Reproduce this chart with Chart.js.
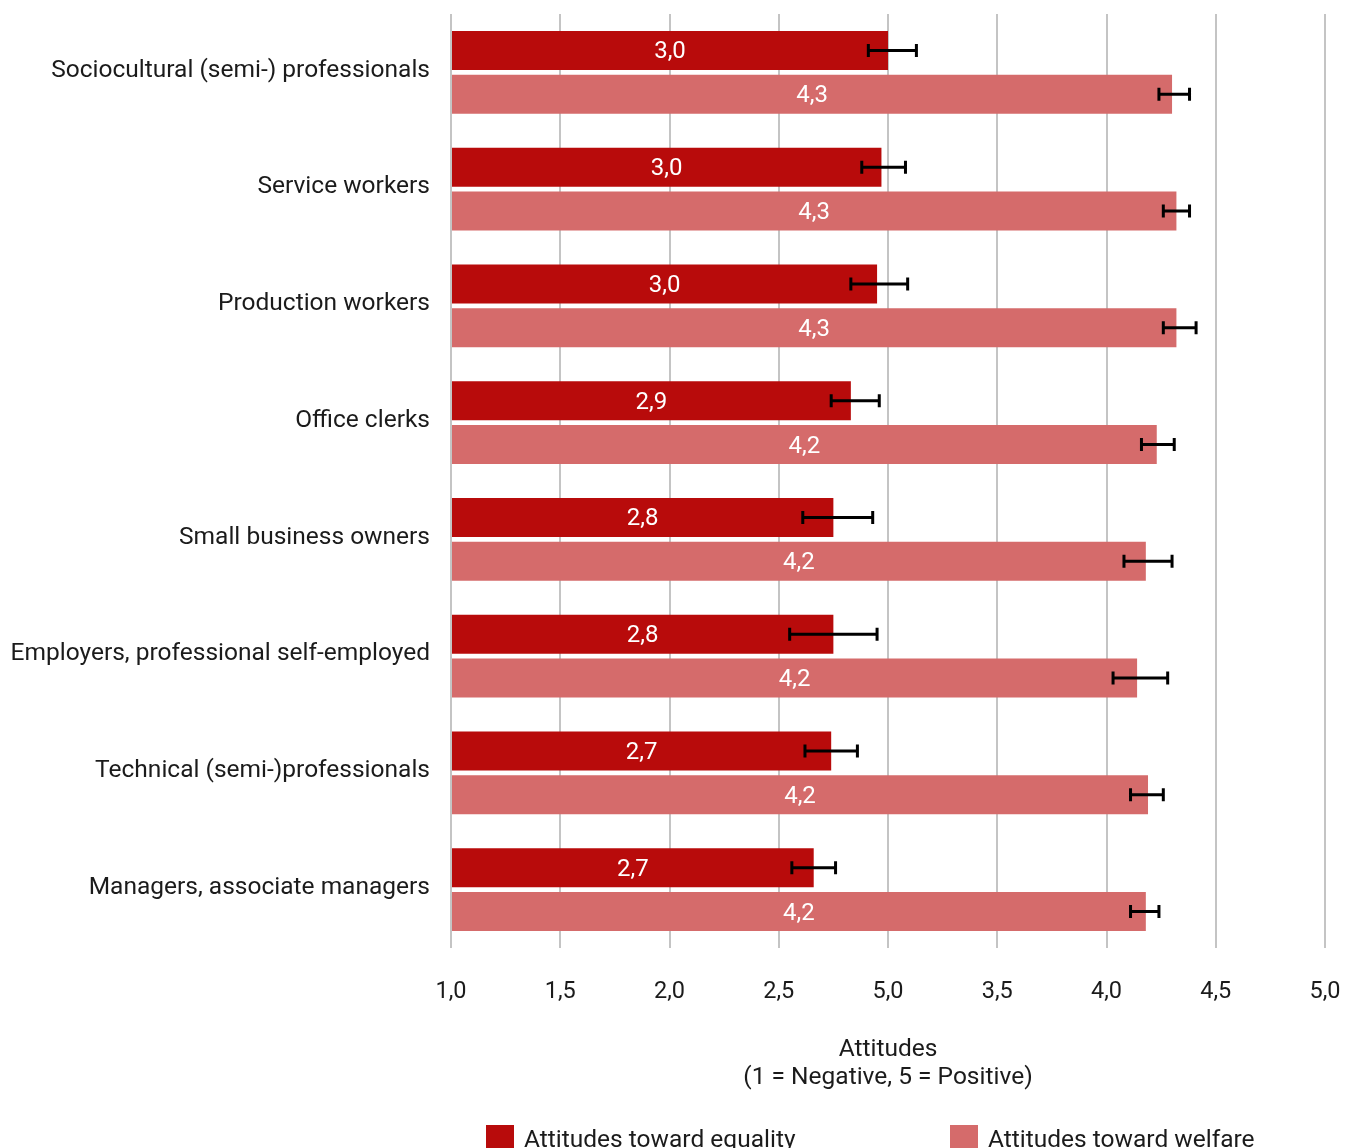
<!DOCTYPE html>
<html>
<head>
<meta charset="utf-8">
<title>Attitudes by occupational class</title>
<script src="https://cdn.jsdelivr.net/npm/chart.js@4.4.1/dist/chart.umd.min.js"></script>
<style>
    html, body { margin: 0; padding: 0; background: #fff; overflow: hidden; }
    .wrap { position: relative; width: 1345px; height: 1148px; }
    .legend { position: absolute; left: 0; top: 1124px; font-family: Roboto, sans-serif; font-size: 24.5px; color: #1b1b1b; }
    .legend-item { position: absolute; top: 0; display: flex; align-items: center; white-space: nowrap; }
    .swatch { width: 28px; height: 28px; margin-right: 10px; }
</style>
</head>
<body>
<div class="wrap">
    <canvas id="chart" width="1345" height="1148"></canvas>
    <div class="legend" id="legend"></div>
</div>
<script>
// ── data ──────────────────────────────────────────────────────────────────
const categories = [
    'Sociocultural (semi-) professionals',
    'Service workers',
    'Production workers',
    'Office clerks',
    'Small business owners',
    'Employers, professional self-employed',
    'Technical (semi-)professionals',
    'Managers, associate managers'
];

const seriesNames = ['Attitudes toward equality', 'Attitudes toward welfare'];

const equality       = [3.00, 2.97, 2.95, 2.83, 2.75, 2.75, 2.74, 2.66];
const equalityLow    = [2.91, 2.88, 2.83, 2.74, 2.61, 2.55, 2.62, 2.56];
const equalityHigh   = [3.13, 3.08, 3.09, 2.96, 2.93, 2.95, 2.86, 2.76];
const equalityLabels = ['3,0', '3,0', '3,0', '2,9', '2,8', '2,8', '2,7', '2,7'];

const welfare        = [4.30, 4.32, 4.32, 4.23, 4.18, 4.14, 4.19, 4.18];
const welfareLow     = [4.24, 4.26, 4.26, 4.16, 4.08, 4.03, 4.11, 4.11];
const welfareHigh    = [4.38, 4.38, 4.41, 4.31, 4.30, 4.28, 4.26, 4.24];
const welfareLabels  = ['4,3', '4,3', '4,3', '4,2', '4,2', '4,2', '4,2', '4,2'];

// tick labels as printed (the 3,0 position reads "5,0" in the original)
const xTickLabels = ['1,0', '1,5', '2,0', '2,5', '5,0', '3,5', '4,0', '4,5', '5,0'];

const axisTitle = ['Attitudes', '(1 = Negative, 5 = Positive)'];

const colors = ['#b80b0b', '#d56b6b'];
const textColor = '#1b1b1b';

// ── value labels + error bars ─────────────────────────────────────────────
const barExtras = {
    id: 'barExtras',
    afterDatasetsDraw(chart) {
        const ctx = chart.ctx;
        const xScale = chart.scales.x;
        chart.data.datasets.forEach((ds, i) => {
            const meta = chart.getDatasetMeta(i);
            meta.data.forEach((bar, j) => {
                ctx.save();
                ctx.fillStyle = '#ffffff';
                ctx.font = '24px Roboto';
                ctx.textAlign = 'center';
                ctx.textBaseline = 'middle';
                ctx.fillText(ds.valueLabels[j], (bar.base + bar.x) / 2, bar.y + 2);

                const lo = xScale.getPixelForValue(ds.errLow[j]);
                const hi = xScale.getPixelForValue(ds.errHigh[j]);
                const cap = 6.5;
                ctx.strokeStyle = '#000000';
                ctx.lineWidth = 3;
                ctx.beginPath();
                ctx.moveTo(lo, bar.y);
                ctx.lineTo(hi, bar.y);
                ctx.moveTo(lo, bar.y - cap);
                ctx.lineTo(lo, bar.y + cap);
                ctx.moveTo(hi, bar.y - cap);
                ctx.lineTo(hi, bar.y + cap);
                ctx.stroke();
                ctx.restore();
            });
        });
    }
};

Chart.defaults.font.family = 'Roboto';
Chart.defaults.color = textColor;

const chart = new Chart(document.getElementById('chart'), {
    type: 'bar',
    data: {
        labels: categories,
        datasets: [
            {
                label: seriesNames[0],
                data: equality,
                valueLabels: equalityLabels,
                errLow: equalityLow,
                errHigh: equalityHigh,
                backgroundColor: colors[0],
                base: 1,
                categoryPercentage: 0.75,
                barPercentage: 0.89
            },
            {
                label: seriesNames[1],
                data: welfare,
                valueLabels: welfareLabels,
                errLow: welfareLow,
                errHigh: welfareHigh,
                backgroundColor: colors[1],
                base: 1,
                categoryPercentage: 0.75,
                barPercentage: 0.89
            }
        ]
    },
    options: {
        indexAxis: 'y',
        responsive: false,
        animation: false,
        devicePixelRatio: 1,
        layout: {
            padding: { left: 0, right: 20, top: 14, bottom: 56 }
        },
        plugins: {
            legend: { display: false },
            tooltip: { enabled: false }
        },
        scales: {
            x: {
                min: 1,
                max: 5,
                grid: {
                    color: '#c4c4c4',
                    lineWidth: 2,
                    drawTicks: false
                },
                border: { display: false },
                ticks: {
                    stepSize: 0.5,
                    padding: 30,
                    color: textColor,
                    font: { size: 23.5 },
                    callback: (value, index) => xTickLabels[index]
                },
                title: {
                    display: true,
                    text: axisTitle,
                    color: textColor,
                    font: { size: 24.5, lineHeight: 1.143 },
                    padding: { top: 0, bottom: 0 }
                },
                afterFit: (scale) => {
                    scale.height = 144;
                    scale.paddingLeft = 0;
                    scale.paddingRight = 0;
                }
            },
            y: {
                grid: { display: false, drawTicks: false },
                border: { display: false },
                ticks: {
                    padding: 21,
                    labelOffset: -2,
                    color: textColor,
                    font: { size: 24.5 }
                },
                afterFit: (scale) => {
                    scale.width = 451;
                    scale.paddingTop = 0;
                    scale.paddingBottom = 0;
                }
            }
        }
    },
    plugins: [barExtras]
});

// ── html legend ───────────────────────────────────────────────────────────
const legendLefts = [486, 950];
const legendEl = document.getElementById('legend');
chart.data.datasets.forEach((ds, i) => {
    const item = document.createElement('div');
    item.className = 'legend-item';
    item.style.left = legendLefts[i] + 'px';
    item.innerHTML = `<span class="swatch" style="background:${ds.backgroundColor}"></span><span>${ds.label}</span>`;
    legendEl.appendChild(item);
});
</script>
</body>
</html>
